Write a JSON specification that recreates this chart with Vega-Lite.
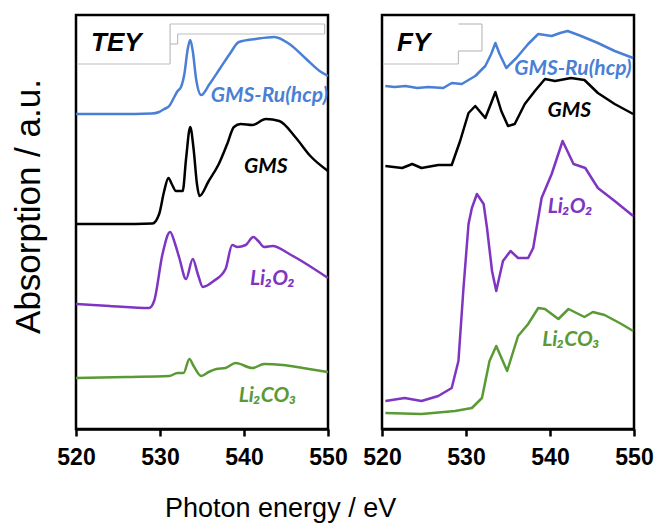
{
  "$schema": "https://vega.github.io/schema/vega-lite/v6.json",
  "padding": {"left": 9, "top": 13, "right": 2, "bottom": 0},
  "background": "white",
  "config": {
    "view": {"stroke": "black", "strokeWidth": 2.5},
    "axis": {"grid": false}
  },
  "title": {
    "text": "Photon energy / eV",
    "orient": "bottom",
    "anchor": "start",
    "frame": "group",
    "dx": 89,
    "offset": 26,
    "baseline": "top",
    "font": "Liberation Sans",
    "fontWeight": "normal",
    "fontSize": 27,
    "color": "black"
  },
  "data": {"values": [
      {"panel": "TEY", "series": "GMS-Ru(hcp)", "energy": 520, "abs": 315},
      {"panel": "TEY", "series": "GMS-Ru(hcp)", "energy": 525, "abs": 315},
      {"panel": "TEY", "series": "GMS-Ru(hcp)", "energy": 529, "abs": 315.5},
      {"panel": "TEY", "series": "GMS-Ru(hcp)", "energy": 529.9, "abs": 317},
      {"panel": "TEY", "series": "GMS-Ru(hcp)", "energy": 530.5, "abs": 320},
      {"panel": "TEY", "series": "GMS-Ru(hcp)", "energy": 531.1, "abs": 323},
      {"panel": "TEY", "series": "GMS-Ru(hcp)", "energy": 531.7, "abs": 332},
      {"panel": "TEY", "series": "GMS-Ru(hcp)", "energy": 532.1, "abs": 338},
      {"panel": "TEY", "series": "GMS-Ru(hcp)", "energy": 532.5, "abs": 342},
      {"panel": "TEY", "series": "GMS-Ru(hcp)", "energy": 532.9, "abs": 355},
      {"panel": "TEY", "series": "GMS-Ru(hcp)", "energy": 533.3, "abs": 380},
      {"panel": "TEY", "series": "GMS-Ru(hcp)", "energy": 533.6, "abs": 389},
      {"panel": "TEY", "series": "GMS-Ru(hcp)", "energy": 533.9, "abs": 378},
      {"panel": "TEY", "series": "GMS-Ru(hcp)", "energy": 534.3, "abs": 350},
      {"panel": "TEY", "series": "GMS-Ru(hcp)", "energy": 534.9, "abs": 334},
      {"panel": "TEY", "series": "GMS-Ru(hcp)", "energy": 535.9, "abs": 345},
      {"panel": "TEY", "series": "GMS-Ru(hcp)", "energy": 537.1, "abs": 360},
      {"panel": "TEY", "series": "GMS-Ru(hcp)", "energy": 538.3, "abs": 375},
      {"panel": "TEY", "series": "GMS-Ru(hcp)", "energy": 539.4, "abs": 387},
      {"panel": "TEY", "series": "GMS-Ru(hcp)", "energy": 541.4, "abs": 390},
      {"panel": "TEY", "series": "GMS-Ru(hcp)", "energy": 543.6, "abs": 392},
      {"panel": "TEY", "series": "GMS-Ru(hcp)", "energy": 545.4, "abs": 385},
      {"panel": "TEY", "series": "GMS-Ru(hcp)", "energy": 547.4, "abs": 370},
      {"panel": "TEY", "series": "GMS-Ru(hcp)", "energy": 549.0, "abs": 358},
      {"panel": "TEY", "series": "GMS-Ru(hcp)", "energy": 550, "abs": 353},
      {"panel": "TEY", "series": "GMS", "energy": 520, "abs": 205},
      {"panel": "TEY", "series": "GMS", "energy": 525, "abs": 205},
      {"panel": "TEY", "series": "GMS", "energy": 529.1, "abs": 205.5},
      {"panel": "TEY", "series": "GMS", "energy": 529.9, "abs": 215},
      {"panel": "TEY", "series": "GMS", "energy": 530.5, "abs": 238},
      {"panel": "TEY", "series": "GMS", "energy": 531.0, "abs": 251},
      {"panel": "TEY", "series": "GMS", "energy": 531.4, "abs": 245},
      {"panel": "TEY", "series": "GMS", "energy": 531.9, "abs": 238},
      {"panel": "TEY", "series": "GMS", "energy": 532.7, "abs": 238},
      {"panel": "TEY", "series": "GMS", "energy": 533.1, "abs": 270},
      {"panel": "TEY", "series": "GMS", "energy": 533.6, "abs": 302},
      {"panel": "TEY", "series": "GMS", "energy": 534.0, "abs": 280},
      {"panel": "TEY", "series": "GMS", "energy": 534.4, "abs": 245},
      {"panel": "TEY", "series": "GMS", "energy": 534.7, "abs": 233},
      {"panel": "TEY", "series": "GMS", "energy": 535.8, "abs": 248},
      {"panel": "TEY", "series": "GMS", "energy": 537.0, "abs": 265},
      {"panel": "TEY", "series": "GMS", "energy": 538.0, "abs": 285},
      {"panel": "TEY", "series": "GMS", "energy": 538.8, "abs": 302},
      {"panel": "TEY", "series": "GMS", "energy": 539.6, "abs": 305},
      {"panel": "TEY", "series": "GMS", "energy": 541.0, "abs": 304},
      {"panel": "TEY", "series": "GMS", "energy": 542.6, "abs": 310},
      {"panel": "TEY", "series": "GMS", "energy": 544.2, "abs": 308},
      {"panel": "TEY", "series": "GMS", "energy": 546.2, "abs": 291},
      {"panel": "TEY", "series": "GMS", "energy": 547.9, "abs": 273},
      {"panel": "TEY", "series": "GMS", "energy": 550, "abs": 258},
      {"panel": "TEY", "series": "Li2O2", "energy": 520, "abs": 125},
      {"panel": "TEY", "series": "Li2O2", "energy": 524, "abs": 123},
      {"panel": "TEY", "series": "Li2O2", "energy": 528.7, "abs": 121},
      {"panel": "TEY", "series": "Li2O2", "energy": 529.3, "abs": 128},
      {"panel": "TEY", "series": "Li2O2", "energy": 530.3, "abs": 175},
      {"panel": "TEY", "series": "Li2O2", "energy": 531.2, "abs": 197},
      {"panel": "TEY", "series": "Li2O2", "energy": 531.8, "abs": 185},
      {"panel": "TEY", "series": "Li2O2", "energy": 532.3, "abs": 171},
      {"panel": "TEY", "series": "Li2O2", "energy": 533.1, "abs": 150},
      {"panel": "TEY", "series": "Li2O2", "energy": 533.9, "abs": 170},
      {"panel": "TEY", "series": "Li2O2", "energy": 534.5, "abs": 155},
      {"panel": "TEY", "series": "Li2O2", "energy": 535.1, "abs": 142},
      {"panel": "TEY", "series": "Li2O2", "energy": 536.4, "abs": 148},
      {"panel": "TEY", "series": "Li2O2", "energy": 537.8, "abs": 160},
      {"panel": "TEY", "series": "Li2O2", "energy": 538.6, "abs": 184},
      {"panel": "TEY", "series": "Li2O2", "energy": 539.2, "abs": 182},
      {"panel": "TEY", "series": "Li2O2", "energy": 540.2, "abs": 184},
      {"panel": "TEY", "series": "Li2O2", "energy": 541.1, "abs": 192},
      {"panel": "TEY", "series": "Li2O2", "energy": 541.7, "abs": 188},
      {"panel": "TEY", "series": "Li2O2", "energy": 542.4, "abs": 182},
      {"panel": "TEY", "series": "Li2O2", "energy": 543.4, "abs": 183},
      {"panel": "TEY", "series": "Li2O2", "energy": 545.4, "abs": 175},
      {"panel": "TEY", "series": "Li2O2", "energy": 547.8, "abs": 163},
      {"panel": "TEY", "series": "Li2O2", "energy": 550, "abs": 151},
      {"panel": "TEY", "series": "Li2CO3", "energy": 520, "abs": 51},
      {"panel": "TEY", "series": "Li2CO3", "energy": 526, "abs": 52},
      {"panel": "TEY", "series": "Li2CO3", "energy": 531.1, "abs": 53},
      {"panel": "TEY", "series": "Li2CO3", "energy": 532.1, "abs": 56},
      {"panel": "TEY", "series": "Li2CO3", "energy": 532.8, "abs": 56},
      {"panel": "TEY", "series": "Li2CO3", "energy": 533.5, "abs": 70},
      {"panel": "TEY", "series": "Li2CO3", "energy": 534.0, "abs": 63},
      {"panel": "TEY", "series": "Li2CO3", "energy": 534.9, "abs": 53},
      {"panel": "TEY", "series": "Li2CO3", "energy": 535.8, "abs": 57},
      {"panel": "TEY", "series": "Li2CO3", "energy": 536.7, "abs": 60},
      {"panel": "TEY", "series": "Li2CO3", "energy": 537.8, "abs": 61},
      {"panel": "TEY", "series": "Li2CO3", "energy": 539.0, "abs": 66},
      {"panel": "TEY", "series": "Li2CO3", "energy": 541.0, "abs": 61},
      {"panel": "TEY", "series": "Li2CO3", "energy": 542.4, "abs": 65},
      {"panel": "TEY", "series": "Li2CO3", "energy": 544.6, "abs": 64},
      {"panel": "TEY", "series": "Li2CO3", "energy": 547.0, "abs": 61},
      {"panel": "TEY", "series": "Li2CO3", "energy": 550, "abs": 57},
      {"panel": "FY", "series": "GMS-Ru(hcp)", "energy": 520.4, "abs": 343},
      {"panel": "FY", "series": "GMS-Ru(hcp)", "energy": 521.5, "abs": 342},
      {"panel": "FY", "series": "GMS-Ru(hcp)", "energy": 522.8, "abs": 343},
      {"panel": "FY", "series": "GMS-Ru(hcp)", "energy": 524.2, "abs": 341},
      {"panel": "FY", "series": "GMS-Ru(hcp)", "energy": 525.5, "abs": 342},
      {"panel": "FY", "series": "GMS-Ru(hcp)", "energy": 527.3, "abs": 341},
      {"panel": "FY", "series": "GMS-Ru(hcp)", "energy": 528.3, "abs": 346},
      {"panel": "FY", "series": "GMS-Ru(hcp)", "energy": 529.5, "abs": 345},
      {"panel": "FY", "series": "GMS-Ru(hcp)", "energy": 531.1, "abs": 353},
      {"panel": "FY", "series": "GMS-Ru(hcp)", "energy": 532.3, "abs": 363},
      {"panel": "FY", "series": "GMS-Ru(hcp)", "energy": 533.0, "abs": 375},
      {"panel": "FY", "series": "GMS-Ru(hcp)", "energy": 533.5, "abs": 386},
      {"panel": "FY", "series": "GMS-Ru(hcp)", "energy": 534.0, "abs": 375},
      {"panel": "FY", "series": "GMS-Ru(hcp)", "energy": 534.8, "abs": 361},
      {"panel": "FY", "series": "GMS-Ru(hcp)", "energy": 536.0, "abs": 371},
      {"panel": "FY", "series": "GMS-Ru(hcp)", "energy": 537.4, "abs": 385},
      {"panel": "FY", "series": "GMS-Ru(hcp)", "energy": 538.6, "abs": 395},
      {"panel": "FY", "series": "GMS-Ru(hcp)", "energy": 540.2, "abs": 393},
      {"panel": "FY", "series": "GMS-Ru(hcp)", "energy": 541.2, "abs": 396},
      {"panel": "FY", "series": "GMS-Ru(hcp)", "energy": 542.1, "abs": 398},
      {"panel": "FY", "series": "GMS-Ru(hcp)", "energy": 543.7, "abs": 393},
      {"panel": "FY", "series": "GMS-Ru(hcp)", "energy": 545.7, "abs": 386},
      {"panel": "FY", "series": "GMS-Ru(hcp)", "energy": 547.7, "abs": 378},
      {"panel": "FY", "series": "GMS-Ru(hcp)", "energy": 549.9, "abs": 371},
      {"panel": "FY", "series": "GMS", "energy": 520.4, "abs": 263},
      {"panel": "FY", "series": "GMS", "energy": 522.4, "abs": 261},
      {"panel": "FY", "series": "GMS", "energy": 523.6, "abs": 265},
      {"panel": "FY", "series": "GMS", "energy": 524.7, "abs": 261},
      {"panel": "FY", "series": "GMS", "energy": 526.7, "abs": 264},
      {"panel": "FY", "series": "GMS", "energy": 528.3, "abs": 264},
      {"panel": "FY", "series": "GMS", "energy": 529.3, "abs": 288},
      {"panel": "FY", "series": "GMS", "energy": 530.3, "abs": 316},
      {"panel": "FY", "series": "GMS", "energy": 531.1, "abs": 323},
      {"panel": "FY", "series": "GMS", "energy": 532.3, "abs": 311},
      {"panel": "FY", "series": "GMS", "energy": 533.0, "abs": 326},
      {"panel": "FY", "series": "GMS", "energy": 533.5, "abs": 337},
      {"panel": "FY", "series": "GMS", "energy": 534.2, "abs": 318},
      {"panel": "FY", "series": "GMS", "energy": 535.0, "abs": 303},
      {"panel": "FY", "series": "GMS", "energy": 535.8, "abs": 305},
      {"panel": "FY", "series": "GMS", "energy": 537.0, "abs": 325},
      {"panel": "FY", "series": "GMS", "energy": 538.2, "abs": 338},
      {"panel": "FY", "series": "GMS", "energy": 539.4, "abs": 350},
      {"panel": "FY", "series": "GMS", "energy": 540.6, "abs": 348},
      {"panel": "FY", "series": "GMS", "energy": 542.5, "abs": 351},
      {"panel": "FY", "series": "GMS", "energy": 544.1, "abs": 349},
      {"panel": "FY", "series": "GMS", "energy": 545.7, "abs": 336},
      {"panel": "FY", "series": "GMS", "energy": 547.7, "abs": 325},
      {"panel": "FY", "series": "GMS", "energy": 549.9, "abs": 315},
      {"panel": "FY", "series": "Li2O2", "energy": 520.4, "abs": 28},
      {"panel": "FY", "series": "Li2O2", "energy": 522.7, "abs": 31},
      {"panel": "FY", "series": "Li2O2", "energy": 524.7, "abs": 28},
      {"panel": "FY", "series": "Li2O2", "energy": 526.7, "abs": 33},
      {"panel": "FY", "series": "Li2O2", "energy": 528.3, "abs": 41},
      {"panel": "FY", "series": "Li2O2", "energy": 529.1, "abs": 68},
      {"panel": "FY", "series": "Li2O2", "energy": 529.7, "abs": 141},
      {"panel": "FY", "series": "Li2O2", "energy": 530.3, "abs": 205},
      {"panel": "FY", "series": "Li2O2", "energy": 530.7, "abs": 221},
      {"panel": "FY", "series": "Li2O2", "energy": 531.3, "abs": 235},
      {"panel": "FY", "series": "Li2O2", "energy": 532.1, "abs": 225},
      {"panel": "FY", "series": "Li2O2", "energy": 532.5, "abs": 201},
      {"panel": "FY", "series": "Li2O2", "energy": 533.1, "abs": 158},
      {"panel": "FY", "series": "Li2O2", "energy": 533.6, "abs": 138},
      {"panel": "FY", "series": "Li2O2", "energy": 534.4, "abs": 168},
      {"panel": "FY", "series": "Li2O2", "energy": 535.3, "abs": 178},
      {"panel": "FY", "series": "Li2O2", "energy": 536.2, "abs": 171},
      {"panel": "FY", "series": "Li2O2", "energy": 537.4, "abs": 171},
      {"panel": "FY", "series": "Li2O2", "energy": 538.0, "abs": 181},
      {"panel": "FY", "series": "Li2O2", "energy": 539.0, "abs": 231},
      {"panel": "FY", "series": "Li2O2", "energy": 540.2, "abs": 255},
      {"panel": "FY", "series": "Li2O2", "energy": 541.5, "abs": 288},
      {"panel": "FY", "series": "Li2O2", "energy": 542.8, "abs": 265},
      {"panel": "FY", "series": "Li2O2", "energy": 544.2, "abs": 261},
      {"panel": "FY", "series": "Li2O2", "energy": 545.7, "abs": 241},
      {"panel": "FY", "series": "Li2O2", "energy": 547.7, "abs": 228},
      {"panel": "FY", "series": "Li2O2", "energy": 549.9, "abs": 213},
      {"panel": "FY", "series": "Li2CO3", "energy": 520.4, "abs": 16},
      {"panel": "FY", "series": "Li2CO3", "energy": 524.7, "abs": 15},
      {"panel": "FY", "series": "Li2CO3", "energy": 528.7, "abs": 18},
      {"panel": "FY", "series": "Li2CO3", "energy": 530.7, "abs": 21},
      {"panel": "FY", "series": "Li2CO3", "energy": 531.9, "abs": 31},
      {"panel": "FY", "series": "Li2CO3", "energy": 532.8, "abs": 68},
      {"panel": "FY", "series": "Li2CO3", "energy": 533.6, "abs": 83},
      {"panel": "FY", "series": "Li2CO3", "energy": 534.9, "abs": 58},
      {"panel": "FY", "series": "Li2CO3", "energy": 536.2, "abs": 93},
      {"panel": "FY", "series": "Li2CO3", "energy": 537.4, "abs": 105},
      {"panel": "FY", "series": "Li2CO3", "energy": 538.6, "abs": 121},
      {"panel": "FY", "series": "Li2CO3", "energy": 539.4, "abs": 120},
      {"panel": "FY", "series": "Li2CO3", "energy": 541.0, "abs": 110},
      {"panel": "FY", "series": "Li2CO3", "energy": 542.2, "abs": 120},
      {"panel": "FY", "series": "Li2CO3", "energy": 544.1, "abs": 112},
      {"panel": "FY", "series": "Li2CO3", "energy": 545.1, "abs": 117},
      {"panel": "FY", "series": "Li2CO3", "energy": 546.5, "abs": 114},
      {"panel": "FY", "series": "Li2CO3", "energy": 548.5, "abs": 105},
      {"panel": "FY", "series": "Li2CO3", "energy": 549.9, "abs": 98},
      {"panel": "TEY", "kind": "label-end", "series": "GMS-Ru(hcp)", "text": "GMS-Ru(hcp)", "energy": 550, "abs": 327},
      {"panel": "TEY", "kind": "label-mid", "series": "GMS", "text": "GMS", "energy": 542.6, "abs": 256},
      {"panel": "TEY", "kind": "label-mid", "series": "Li2O2", "text": "Li₂O₂", "energy": 543.4, "abs": 144},
      {"panel": "TEY", "kind": "label-mid", "series": "Li2CO3", "text": "Li₂CO₃", "energy": 542.8, "abs": 27},
      {"panel": "FY", "kind": "label-end", "series": "GMS-Ru(hcp)", "text": "GMS-Ru(hcp)", "energy": 549.7, "abs": 354},
      {"panel": "FY", "kind": "label-mid", "series": "GMS", "text": "GMS", "energy": 542.3, "abs": 312},
      {"panel": "FY", "kind": "label-mid", "series": "Li2O2", "text": "Li₂O₂", "energy": 542.4, "abs": 216},
      {"panel": "FY", "kind": "label-mid", "series": "Li2CO3", "text": "Li₂CO₃", "energy": 542.5, "abs": 83},
      {"panel": "TEY", "kind": "tag", "text": "TEY", "energy": 521.8, "abs": 378},
      {"panel": "FY", "kind": "tag", "text": "FY", "energy": 521.8, "abs": 378},
      {"panel": "TEY", "kind": "edge", "energy": 531.2, "e2": 531.2, "abs": 405, "a2": 365},
      {"panel": "TEY", "kind": "edge", "energy": 520.1, "e2": 531.2, "abs": 365, "a2": 365},
      {"panel": "TEY", "kind": "edge", "energy": 531.2, "e2": 549.6, "abs": 405, "a2": 405},
      {"panel": "TEY", "kind": "edge", "energy": 549.6, "e2": 549.6, "abs": 405, "a2": 395},
      {"panel": "TEY", "kind": "edge", "energy": 532.1, "e2": 549.6, "abs": 395, "a2": 395},
      {"panel": "TEY", "kind": "edge", "energy": 532.1, "e2": 532.1, "abs": 395, "a2": 385},
      {"panel": "TEY", "kind": "edge", "energy": 531.2, "e2": 532.1, "abs": 385, "a2": 385},
      {"panel": "FY", "kind": "edge", "energy": 529.1, "e2": 531.9, "abs": 405, "a2": 405},
      {"panel": "FY", "kind": "edge", "energy": 531.9, "e2": 531.9, "abs": 405, "a2": 378},
      {"panel": "FY", "kind": "edge", "energy": 529.1, "e2": 531.9, "abs": 378, "a2": 378},
      {"panel": "FY", "kind": "edge", "energy": 529.1, "e2": 529.1, "abs": 378, "a2": 365},
      {"panel": "FY", "kind": "edge", "energy": 520.1, "e2": 529.1, "abs": 365, "a2": 365}
  ]},
  "transform": [{"calculate": "datum.kind ? datum.kind : 'line'", "as": "kind"}],
  "hconcat": [
    {
      "width": 252,
      "height": 414,
      "transform": [{"filter": "datum.panel === 'TEY'"}],
      "layer": [
        {
          "transform": [{"filter": "datum.kind === 'line'"}],
          "mark": {"type": "line", "strokeWidth": 2.5, "strokeJoin": "round", "interpolate": "monotone"},
          "encoding": {
            "x": {
              "field": "energy", "type": "quantitative",
              "scale": {"domain": [520, 550], "nice": false, "zero": false},
              "axis": {
                "values": [520, 530, 540, 550],
                "labelFont": "Liberation Sans", "labelFontWeight": "bold", "labelFontSize": 23,
                "labelColor": "black", "labelPadding": 10, "labelFlush": false,
                "tickSize": 7, "tickWidth": 2.5, "tickColor": "black",
                "domainColor": "black", "domainWidth": 2.5,
                "title": null
              }
            },
            "y": {
              "field": "abs", "type": "quantitative",
              "scale": {"domain": [0, 414], "nice": false, "zero": false},
              "axis": {
                "ticks": false, "labels": false, "domain": false,
                "title": "Absorption / a.u.",
                "titleFont": "Liberation Sans", "titleFontWeight": "normal", "titleFontSize": 35,
                "titleColor": "black", "titleAngle": -90, "titleX": -37, "titleY": 191,
                "titleAlign": "center", "titleBaseline": "alphabetic"
              }
            },
            "color": {
              "field": "series", "type": "nominal",
              "scale": {"domain": ["GMS-Ru(hcp)", "GMS", "Li2O2", "Li2CO3"], "range": ["#4a7fd6", "#000000", "#7f35c2", "#5a9a35"]},
              "legend": null
            }
          }
        },
        {
          "transform": [{"filter": "datum.kind === 'edge'"}],
          "mark": {"type": "rule", "color": "#bdbdbd", "strokeWidth": 1.2},
          "encoding": {
            "x": {"field": "energy", "type": "quantitative"},
            "x2": {"field": "e2"},
            "y": {"field": "abs", "type": "quantitative"},
            "y2": {"field": "a2"}
          }
        },
        {
          "transform": [{"filter": "datum.kind === 'label-end'"}],
          "mark": {"type": "text", "font": "Lato, Noto Sans", "fontStyle": "italic", "fontWeight": "bold", "fontSize": 21, "baseline": "alphabetic", "align": "right"},
          "encoding": {
            "x": {"field": "energy", "type": "quantitative"},
            "y": {"field": "abs", "type": "quantitative"},
            "text": {"field": "text"},
            "color": {"field": "series", "type": "nominal", "legend": null}
          }
        },
        {
          "transform": [{"filter": "datum.kind === 'label-mid'"}],
          "mark": {"type": "text", "font": "Lato, Noto Sans", "fontStyle": "italic", "fontWeight": "bold", "fontSize": 21, "baseline": "alphabetic", "align": "center"},
          "encoding": {
            "x": {"field": "energy", "type": "quantitative"},
            "y": {"field": "abs", "type": "quantitative"},
            "text": {"field": "text"},
            "color": {"field": "series", "type": "nominal", "legend": null}
          }
        },
        {
          "transform": [{"filter": "datum.kind === 'tag'"}],
          "mark": {"type": "text", "font": "Liberation Sans", "fontStyle": "italic", "fontWeight": "bold", "fontSize": 26, "align": "left", "baseline": "alphabetic", "color": "black"},
          "encoding": {
            "x": {"field": "energy", "type": "quantitative"},
            "y": {"field": "abs", "type": "quantitative"},
            "text": {"field": "text"}
          }
        }
      ]
    },
    {
      "width": 252,
      "height": 414,
      "transform": [{"filter": "datum.panel === 'FY'"}],
      "layer": [
        {
          "transform": [{"filter": "datum.kind === 'line'"}],
          "mark": {"type": "line", "strokeWidth": 2.5, "strokeJoin": "round"},
          "encoding": {
            "x": {
              "field": "energy", "type": "quantitative",
              "scale": {"domain": [520, 550], "nice": false, "zero": false},
              "axis": {
                "values": [520, 530, 540, 550],
                "labelFont": "Liberation Sans", "labelFontWeight": "bold", "labelFontSize": 23,
                "labelColor": "black", "labelPadding": 10, "labelFlush": false,
                "tickSize": 7, "tickWidth": 2.5, "tickColor": "black",
                "domainColor": "black", "domainWidth": 2.5,
                "title": null
              }
            },
            "y": {
              "field": "abs", "type": "quantitative",
              "scale": {"domain": [0, 414], "nice": false, "zero": false},
              "axis": null
            },
            "color": {
              "field": "series", "type": "nominal",
              "scale": {"domain": ["GMS-Ru(hcp)", "GMS", "Li2O2", "Li2CO3"], "range": ["#4a7fd6", "#000000", "#7f35c2", "#5a9a35"]},
              "legend": null
            }
          }
        },
        {
          "transform": [{"filter": "datum.kind === 'edge'"}],
          "mark": {"type": "rule", "color": "#bdbdbd", "strokeWidth": 1.2},
          "encoding": {
            "x": {"field": "energy", "type": "quantitative"},
            "x2": {"field": "e2"},
            "y": {"field": "abs", "type": "quantitative"},
            "y2": {"field": "a2"}
          }
        },
        {
          "transform": [{"filter": "datum.kind === 'label-end'"}],
          "mark": {"type": "text", "font": "Lato, Noto Sans", "fontStyle": "italic", "fontWeight": "bold", "fontSize": 21, "baseline": "alphabetic", "align": "right"},
          "encoding": {
            "x": {"field": "energy", "type": "quantitative"},
            "y": {"field": "abs", "type": "quantitative"},
            "text": {"field": "text"},
            "color": {"field": "series", "type": "nominal", "legend": null}
          }
        },
        {
          "transform": [{"filter": "datum.kind === 'label-mid'"}],
          "mark": {"type": "text", "font": "Lato, Noto Sans", "fontStyle": "italic", "fontWeight": "bold", "fontSize": 21, "baseline": "alphabetic", "align": "center"},
          "encoding": {
            "x": {"field": "energy", "type": "quantitative"},
            "y": {"field": "abs", "type": "quantitative"},
            "text": {"field": "text"},
            "color": {"field": "series", "type": "nominal", "legend": null}
          }
        },
        {
          "transform": [{"filter": "datum.kind === 'tag'"}],
          "mark": {"type": "text", "font": "Liberation Sans", "fontStyle": "italic", "fontWeight": "bold", "fontSize": 26, "align": "left", "baseline": "alphabetic", "color": "black"},
          "encoding": {
            "x": {"field": "energy", "type": "quantitative"},
            "y": {"field": "abs", "type": "quantitative"},
            "text": {"field": "text"}
          }
        }
      ]
    }
  ],
  "spacing": 12
}
